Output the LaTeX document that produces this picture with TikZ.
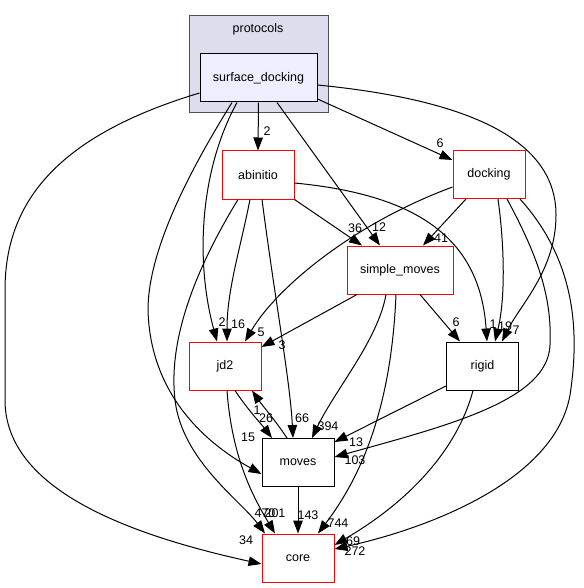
\documentclass[tikz,border=0pt]{standalone}
\usepackage{fontspec}
\setmainfont{Liberation Sans}
\usetikzlibrary{arrows.meta}
\definecolor{clusterfill}{HTML}{DDDDEE}
\definecolor{clusterline}{HTML}{505050}
\definecolor{curfill}{HTML}{EEEEFF}

\begin{document}
\begin{tikzpicture}[x=1pt, y=-1pt,
    dirbox/.style = {draw, line width=1pt, fill=white, minimum width=72pt, minimum height=48pt, inner sep=0pt, font=\fontsize{12.5}{15}\selectfont},
    reddir/.style = {dirbox, draw=red},
    edge/.style = {line width=1pt, -{Triangle[length=13pt, width=9.5pt]}},
    num/.style = {inner sep=0pt, font=\fontsize{12.5}{15}\selectfont}]
  \useasboundingbox (0,0) rectangle (583,588);
  % protocols cluster
  \draw [fill=clusterfill, draw=clusterline, line width=1pt] (189,16) rectangle (328,113);
  \node [num] (protocols) at (258,29) {protocols};
  \node [dirbox, fill=curfill, minimum width=117pt] (sd) at (258.5,78) {surface\_docking};
  \node [reddir] (abinitio) at (258,175) {abinitio};
  \node [reddir] (docking) at (489,174.5) {docking};
  \node [reddir, minimum width=106pt] (simplemoves) at (400,270) {simple\_moves};
  \node [reddir] (jd2) at (225,366) {jd2};
  \node [dirbox] (rigid) at (482.5,366) {rigid};
  \node [dirbox] (moves) at (298,462.5) {moves};
  \node [reddir] (core) at (298,558) {core};

  % surface_docking
  \draw [edge] (sd.south) -- (abinitio.north);
  \draw [edge] ([yshift=3.5pt]sd.south east) -- ([yshift=14.5pt]docking.west);
  \draw [edge] ([xshift=18.5pt]sd.south) -- ([xshift=-20pt]simplemoves.north);
  \draw [edge] ([xshift=-21.5pt]sd.south) .. controls (200,170) and (195,260) .. ([xshift=-8pt]jd2.north);
  \draw [edge] ([xshift=-26.5pt]sd.south) .. controls (190,170) and (148,250) .. (148,310)
    .. controls (150,390) and (200,440) .. ([yshift=-11.5pt]moves.west);
  \draw [edge] ([yshift=-15pt]sd.west) .. controls (60,135) and (5,200) .. (5,290) -- (5,400)
    .. controls (5,490) and (130,535) .. ([yshift=-6pt]core.west);
  \draw [edge] ([yshift=-7pt]sd.east) .. controls (470,100) and (556,140) .. (556,215)
    .. controls (556,270) and (520,305) .. ([xshift=19.5pt]rigid.north);
  % abinitio
  \draw [edge] (abinitio.south east) -- ([xshift=-38pt]simplemoves.north);
  \draw [edge] ([xshift=-8pt]abinitio.south) .. controls (240,250) and (227,290) .. ([xshift=2pt]jd2.north);
  \draw [edge] ([xshift=-20pt]abinitio.south) .. controls (195,270) and (168,340) .. (175,400)
    .. controls (182,460) and (240,500) .. ([xshift=-33pt]core.north);
  \draw [edge] ([xshift=4pt]abinitio.south) .. controls (275,300) and (290,380) .. ([xshift=-5pt]moves.north);
  \draw [edge] ([yshift=-8pt]abinitio.east) .. controls (420,195) and (480,240) .. ([xshift=4.5pt]rigid.north);
  % docking
  \draw [edge] ([xshift=-23pt]docking.south) -- ([xshift=23pt]simplemoves.north);
  \draw [edge] ([yshift=-12.5pt]docking.west) .. controls (350,225) and (275,290) .. ([xshift=20pt]jd2.north);
  \draw [edge] ([xshift=9pt]docking.south) .. controls (505,250) and (505,300) .. ([xshift=12.5pt]rigid.north);
  \draw [edge] ([xshift=18pt]docking.south) .. controls (540,260) and (552,300) .. (550,345)
    .. controls (548,400) and (450,425) .. ([yshift=5.5pt]moves.east);
  \draw [edge] ([xshift=31pt]docking.south) .. controls (575,260) and (580,330) .. (570,395)
    .. controls (555,480) and (430,528) .. ([yshift=9pt]core.east);
  % simple_moves
  \draw [edge] ([xshift=-43pt]simplemoves.south) -- ([yshift=19pt]jd2.east);
  \draw [edge] ([xshift=20pt]simplemoves.south) -- ([xshift=-22.5pt]rigid.north);
  \draw [edge] ([xshift=-14pt]simplemoves.south) .. controls (378,340) and (335,390) .. ([xshift=14pt]moves.north);
  \draw [edge] ([xshift=-4pt]simplemoves.south) .. controls (392,390) and (370,465) .. ([xshift=20pt]core.north);
  % jd2, rigid, moves
  \draw [edge] ([xshift=10pt]jd2.south) .. controls (248,410) and (262,425) .. ([xshift=-26pt]moves.north);
  \draw [edge] ([xshift=-11pt]moves.north) .. controls (275,420) and (262,405) .. ([xshift=27pt]jd2.south);
  \draw [edge] ([xshift=2pt]jd2.south) .. controls (232,460) and (255,500) .. ([xshift=-23pt]core.north);
  \draw [edge] ([yshift=-20pt]rigid.west) -- ([yshift=20.5pt]moves.east);
  \draw [edge] ([xshift=-9.5pt]rigid.south) .. controls (460,440) and (420,495) .. ([yshift=13pt]core.east);
  \draw [edge] (moves.south) -- (core.north);

  % edge counts
  \node [num] (n-sd-abinitio) at (267,131) {2};
  \node [num] (n-sd-docking) at (440,143) {6};
  \node [num] (n-sd-simplemoves) at (379,227) {12};
  \node [num] (n-sd-jd2) at (222,322) {2};
  \node [num] (n-sd-moves) at (248,437) {15};
  \node [num] (n-sd-core) at (246,540) {34};
  \node [num] (n-sd-rigid) at (516,330) {7};
  \node [num] (n-abinitio-simplemoves) at (355,228) {36};
  \node [num] (n-abinitio-jd2) at (238,324) {16};
  \node [num] (n-abinitio-core) at (265,513) {470};
  \node [num] (n-abinitio-moves) at (302,418) {66};
  \node [num] (n-abinitio-rigid) at (493,324) {1};
  \node [num] (n-docking-simplemoves) at (441,238) {41};
  \node [num] (n-docking-jd2) at (261,332) {5};
  \node [num] (n-docking-rigid) at (505,326) {19};
  \node [num] (n-docking-moves) at (355,460) {103};
  \node [num] (n-docking-core) at (355,551) {272};
  \node [num] (n-simplemoves-jd2) at (282,345) {3};
  \node [num] (n-simplemoves-rigid) at (456,322) {6};
  \node [num] (n-simplemoves-moves) at (328,426) {394};
  \node [num] (n-simplemoves-core) at (338,523) {744};
  \node [num] (n-jd2-moves) at (266,418) {26};
  \node [num] (n-moves-jd2) at (257,410) {1};
  \node [num] (n-jd2-core) at (275,513) {201};
  \node [num] (n-rigid-moves) at (356,442) {13};
  \node [num] (n-rigid-core) at (353,541) {69};
  \node [num] (n-moves-core) at (308,515) {143};
\end{tikzpicture}
\end{document}
